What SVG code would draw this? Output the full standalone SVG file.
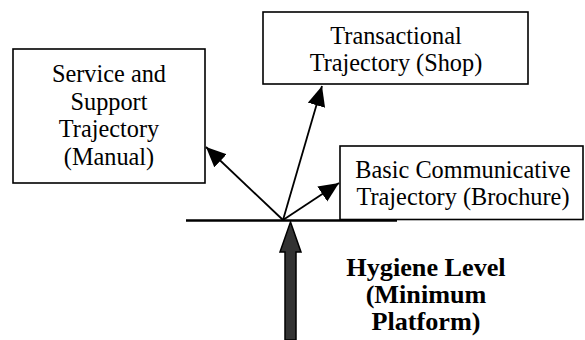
<svg xmlns="http://www.w3.org/2000/svg" width="585" height="340" viewBox="0 0 585 340">
<style>
.box{fill:#fff;stroke:#000;stroke-width:1.6}
.t{font-family:'Liberation Serif',serif;font-size:24.3px;fill:#000;text-anchor:middle}
.b{font-family:'Liberation Serif',serif;font-size:26.2px;font-weight:bold;fill:#000;text-anchor:middle}
.c{stroke:#000;stroke-width:1.8;fill:none;marker-end:url(#ah)}
</style>
<defs>
<marker id="ah" markerUnits="userSpaceOnUse" markerWidth="22" markerHeight="20" refX="20" refY="9" orient="auto">
<path d="M0,0 L20,9 L0,18 z" fill="#000"/>
</marker>
</defs>
<g id="node-service">
<rect class="box" x="13" y="49" width="192" height="134"/>
<text class="t" x="109" y="82">Service and</text>
<text class="t" x="109" y="109.5">Support</text>
<text class="t" x="109" y="137">Trajectory</text>
<text class="t" x="109" y="164.5">(Manual)</text>
</g>
<g id="node-transactional">
<rect class="box" x="263" y="12" width="265" height="72"/>
<text class="t" x="396" y="43.5">Transactional</text>
<text class="t" x="396" y="71">Trajectory (Shop)</text>
</g>
<g id="node-basic">
<rect class="box" x="340" y="146" width="243" height="73.5"/>
<text class="t" x="463" y="178">Basic Communicative</text>
<text class="t" x="463" y="204.5">Trajectory (Brochure)</text>
</g>
<g id="node-hygiene">
<line x1="186" y1="220.5" x2="397" y2="220.5" stroke="#000" stroke-width="2.6"/>
<polygon points="285,340 285,252 280,252 290.5,222 301,252 296,252 296,340" fill="#333" stroke="#000" stroke-width="1.5"/>
<text class="b" x="426" y="276">Hygiene Level</text>
<text class="b" x="426" y="303">(Minimum</text>
<text class="b" x="426" y="330">Platform)</text>
</g>
<g id="connectors">
<line class="c" x1="283" y1="220" x2="206" y2="147"/>
<line class="c" x1="283" y1="220" x2="322" y2="86"/>
<line class="c" x1="283" y1="220" x2="339" y2="183"/>
</g>
</svg>
